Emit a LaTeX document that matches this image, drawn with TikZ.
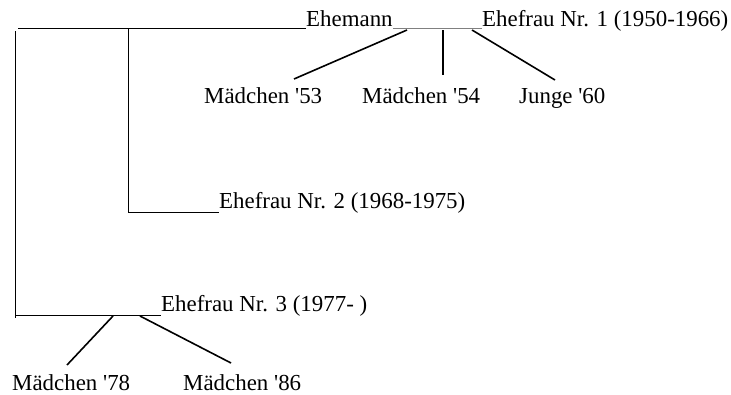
\documentclass[tikz,border=0pt]{standalone}
\usepackage{fontspec}
\setmainfont{Liberation Serif}
\usepackage{tikz}
\usetikzlibrary{positioning}

\begin{document}
\begin{tikzpicture}[x=1pt, y=-1pt,
  person/.style={anchor=base west, inner sep=0pt, font=\fontsize{22.9}{27}\selectfont},
  link/.style={line width=1pt},
  kid/.style={line width=1.6pt}]
\useasboundingbox (0,0) rectangle (731,394);

\node [person] (mann) at (306,26) {Ehemann};
\node [person] (frau1) at (482,26) {Ehefrau Nr. 1 (1950-1966)};
\node [person] (frau2) at (219,208) {Ehefrau Nr. 2 (1968-1975)};
\node [person] (frau3) at (161,311) {Ehefrau Nr. 3 (1977- )};

\node [person] (m53) at (204,103) {Mädchen \textquotesingle 53};
\node [person] (m54) at (362,103) {Mädchen \textquotesingle 54};
\node [person] (j60) at (519,103) {Junge \textquotesingle 60};
\node [person] (m78) at (12,390) {Mädchen \textquotesingle 78};
\node [person] (m86) at (183,390) {Mädchen \textquotesingle 86};

\coordinate (top) at (18,28);
\coordinate (left) at (15,31);
\coordinate (inner) at (128,28);
\coordinate (ehe2) at (128,212);
\coordinate (ehe3) at (15,315);

% Ehemann und Ehefrau Nr. 1
\draw [link] (top) -- (top -| mann.west);
\draw [link, gray] (mann.east |- top) -- (top -| frau1.west);
\coordinate (k53) at (407,30);
\coordinate (k54) at (443,30);
\coordinate (k60) at (472,30);
\coordinate (e53) at (294,79);
\coordinate (e54) at (443,75);
\coordinate (e60) at (555,80);
\draw [kid] (k53) -- (e53);
\draw [kid] (k54) -- (e54);
\draw [kid] (k60) -- (e60);

% Ehefrau Nr. 2
\draw [link] (inner) -- (ehe2);
\draw [link] (ehe2) -- (ehe2 -| frau2.west);

% Ehefrau Nr. 3
\draw [link] (left) -- (15,318);
\draw [link] (ehe3) -- (ehe3 -| frau3.west);
\coordinate (k78) at (113,316);
\coordinate (k86) at (140,316);
\coordinate (e78) at (67,365);
\coordinate (e86) at (231,363);
\draw [kid] (k78) -- (e78);
\draw [kid] (k86) -- (e86);

\end{tikzpicture}
\end{document}
